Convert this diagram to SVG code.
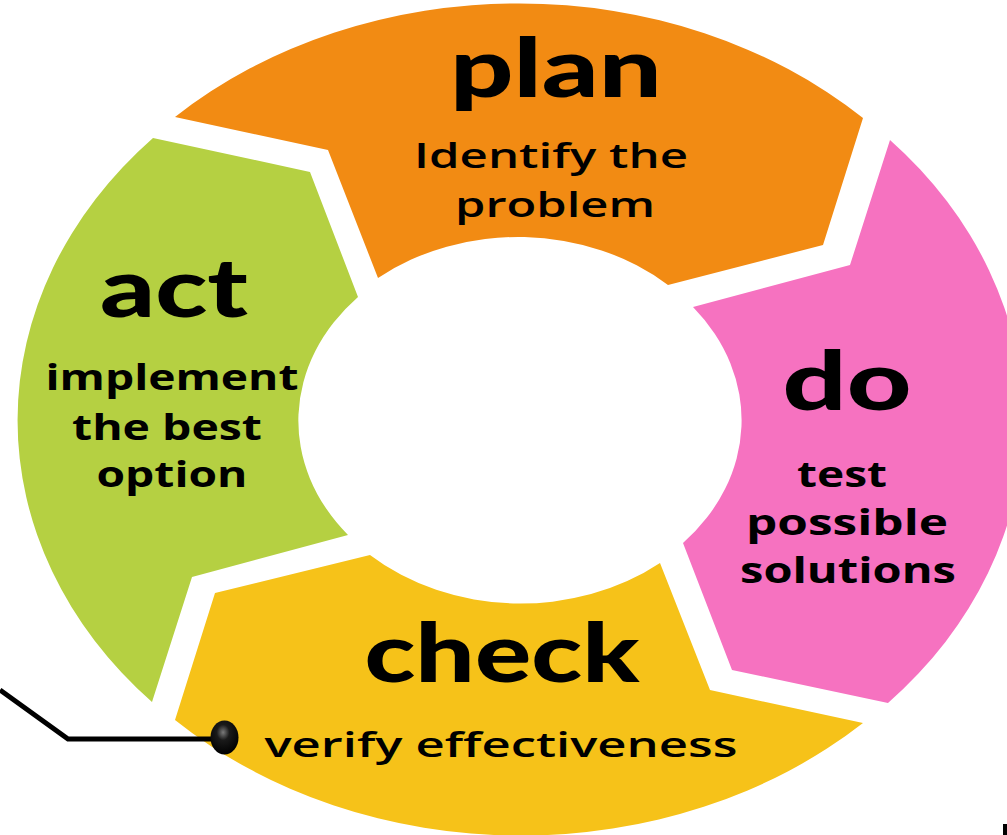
<svg xmlns="http://www.w3.org/2000/svg" width="1007" height="835" viewBox="0 0 1007 835">
<defs>
<radialGradient id="ball" cx="0.45" cy="0.35" r="0.65">
<stop offset="0" stop-color="#7a7a7a"/>
<stop offset="0.35" stop-color="#1a1a1a"/>
<stop offset="1" stop-color="#000"/>
</radialGradient>
</defs>
<style>
.head{font-family:Lato,"Liberation Sans",sans-serif;font-weight:900;font-size:82px;fill:#000}
.body{font-family:"Open Sans","Liberation Sans",sans-serif;font-weight:700;font-size:35px;fill:#000}
.lite{font-weight:600;font-size:34px}
.plan{fill:#F28B13}
.do{fill:#F672C0}
.check{fill:#F6C219}
.act{fill:#B5D042}
</style>
<rect width="1007" height="835" fill="#fff"/>
<g id="plan">
<path class="plan" d="M175,117 A498 412 0 0 1 863,118 L823,245 L668,285 A221 181 0 0 0 378,278 L328,150 Z"/>
<text class="head" x="556" y="97" text-anchor="middle" textLength="212" lengthAdjust="spacingAndGlyphs">plan</text>
<text class="body lite" x="551" y="168" text-anchor="middle" textLength="274" lengthAdjust="spacingAndGlyphs">Identify the</text>
<text class="body lite" x="555" y="217" text-anchor="middle" textLength="200" lengthAdjust="spacingAndGlyphs">problem</text>
</g>
<g id="do">
<path class="do" d="M890,140 A498 412 0 0 1 888,703 L732,670 L683,543 A221 181 0 0 0 693,307 L850,265 Z"/>
<text class="head" x="847" y="410" text-anchor="middle" textLength="129" lengthAdjust="spacingAndGlyphs">do</text>
<text class="body" x="842" y="487" text-anchor="middle" textLength="90" lengthAdjust="spacingAndGlyphs">test</text>
<text class="body" x="847" y="535" text-anchor="middle" textLength="202" lengthAdjust="spacingAndGlyphs">possible</text>
<text class="body" x="848" y="583" text-anchor="middle" textLength="216" lengthAdjust="spacingAndGlyphs">solutions</text>
</g>
<g id="check">
<path class="check" d="M863,723 A498 412 0 0 1 175,720 L215,593 L370,555 A221 181 0 0 0 660,563 L710,690 Z"/>
<text class="head" x="502" y="682" text-anchor="middle" textLength="275" lengthAdjust="spacingAndGlyphs">check</text>
<text class="body lite" x="501" y="757" text-anchor="middle" textLength="473" lengthAdjust="spacingAndGlyphs">verify effectiveness</text>
</g>
<g id="act">
<path class="act" d="M152,702 A498 412 0 0 1 153,138 L310,172 L358,297 A221 181 0 0 0 348,535 L192,577 Z"/>
<text class="head" x="174" y="317" text-anchor="middle" textLength="148" lengthAdjust="spacingAndGlyphs">act</text>
<text class="body" x="172" y="390" text-anchor="middle" textLength="253" lengthAdjust="spacingAndGlyphs">implement</text>
<text class="body" x="167" y="440" text-anchor="middle" textLength="190" lengthAdjust="spacingAndGlyphs">the best</text>
<text class="body" x="172" y="487" text-anchor="middle" textLength="151" lengthAdjust="spacingAndGlyphs">option</text>
</g>
<g id="connectors">
<polyline points="0,690 68,739 214,739" fill="none" stroke="#000" stroke-width="5"/>
<ellipse cx="224.5" cy="737.5" rx="14" ry="17" fill="url(#ball)"/>
</g>
<rect x="1003" y="824" width="4" height="11" fill="#000"/>
</svg>
